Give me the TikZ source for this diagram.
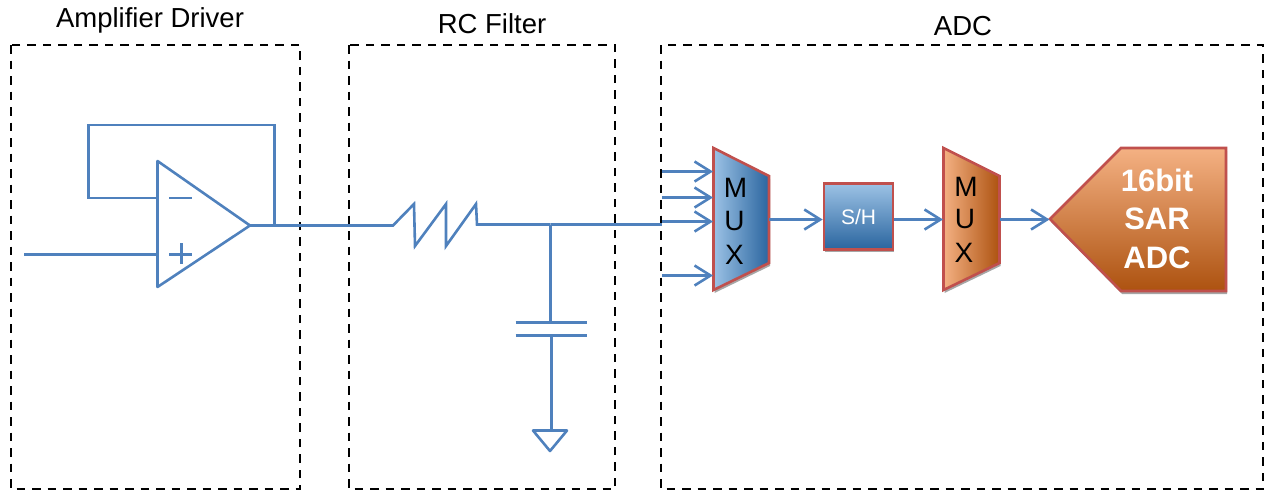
\documentclass[tikz,border=0pt]{standalone}
\usepackage{fontspec}
\setmainfont{Liberation Sans}
\usetikzlibrary{arrows.meta,shadows}
\definecolor{wire}{HTML}{4F81BD}
\definecolor{edge}{HTML}{C0504D}
\definecolor{bluelight}{HTML}{9CC2E5}
\definecolor{bluemid}{HTML}{5B9BD5}
\definecolor{bluedark}{HTML}{2A659F}
\definecolor{orangelight}{HTML}{F4B183}
\definecolor{orangemid}{HTML}{ED7D31}
\definecolor{orangedark}{HTML}{AD5210}
\tikzset{
  x=1pt,y=-1pt,
  wireline/.style={draw=wire,line width=2.6pt,line join=miter},
  arrowline/.style={wireline,-{Straight Barb[length=16pt,width=20pt,line width=2.6pt]}},
  groupbox/.style={draw=black,line width=2.3pt,dash pattern=on 8.5pt off 7pt},
  grouplabel/.style={font=\fontsize{27.5}{27.5}\selectfont,text=black,inner sep=0pt},
  softshadow/.style={drop shadow={shadow xshift=1pt,shadow yshift=-3pt,opacity=.35,fill=black}},
  blockedge/.style={draw=edge,line width=2.6pt,line join=miter,softshadow},
  muxletter/.style={font=\fontsize{28}{28}\selectfont,text=black,inner sep=0pt},
  bluemux/.style={blockedge,left color=bluelight,middle color=bluemid,right color=bluedark},
  orangemux/.style={blockedge,left color=orangelight,middle color=orangemid,right color=orangedark},
  shbox/.style={blockedge,top color=bluelight,middle color=bluemid,bottom color=bluedark,
    minimum width=69pt,minimum height=65.5pt,inner sep=0pt,text=white,font=\fontsize{21}{21}\selectfont},
  adcshape/.style={blockedge,top color=orangelight,middle color=orangemid,bottom color=orangedark},
  adctext/.style={font=\fontsize{31}{31}\selectfont\bfseries,text=white,inner sep=0pt},
}
\begin{document}
\begin{tikzpicture}
\useasboundingbox (0,0) rectangle (1264,491);
% group boxes
\draw[groupbox] (11,45) rectangle (300,489);
\draw[groupbox] (349,45) rectangle (615,489);
\draw[groupbox] (661,45) rectangle (1263,489);
\node[grouplabel] (lamp) at (150,20) {Amplifier Driver};
\node[grouplabel] (lrc) at (492,24) {RC Filter};
\node[grouplabel] (ladc) at (963,26) {ADC};
% named points
\coordinate (ampa) at (157.5,161);
\coordinate (ampb) at (157.5,287);
\coordinate (ampout) at (250,225.5);
\coordinate (ampin) at (157.5,254.5);
\coordinate (ampfb) at (157.5,198);
\coordinate (inp) at (24,254.5);
\coordinate (fbtap) at (274.5,225.5);
\coordinate (fbtr) at (274.5,125);
\coordinate (fbtl) at (88.5,125);
\coordinate (fbbl) at (88.5,198);
\coordinate (rin) at (393,225.5);
\coordinate (rout) at (477,224.5);
\coordinate (junction) at (550.5,224.5);
\coordinate (capa) at (550.5,322.5);
\coordinate (capb) at (551.5,335.5);
\coordinate (gnd) at (551.5,430);
\coordinate (muxa) at (713,171.5);
\coordinate (muxb) at (713,197.5);
\coordinate (muxc) at (713,221.5);
\coordinate (muxd) at (713,275.5);
\coordinate (ina) at (662,171.5);
\coordinate (inb) at (662,197.5);
\coordinate (inc) at (662,224.5);
\coordinate (ind) at (662,275.5);
\coordinate (muxout) at (769,219.5);
\coordinate (muxtwoin) at (943,219.5);
\coordinate (muxtwoout) at (999.5,219.5);
\coordinate (adctip) at (1049.5,219.5);
% op amp
\draw[wireline,line join=round] (ampa) -- (ampout) -- (ampb) -- cycle;
\draw[wireline] (inp) -- (ampin);
\draw[wireline] (ampfb) -- (fbbl) -- (fbtl) -- (fbtr) -- (fbtap);
\draw[wireline] (169,198) -- (192,198);
\draw[wireline] (169,254.5) -- (192,254.5);
\draw[wireline] (181.5,243) -- (181.5,264);
% output and resistor
\draw[wireline] (ampout) -- (rin) -- (414,204) -- (415,246) -- (446,204) -- (446,246) -- (476,204) -- (rout) -- (junction);
\draw[wireline] (junction) -- (inc);
\draw[wireline] (junction) -- (capa);
\draw[wireline] (515.5,322.5) -- (587,322.5);
\draw[wireline] (515.5,335.5) -- (587,335.5);
\draw[wireline] (capb) -- (gnd);
\draw[wireline,line join=round] (533,430.5) -- (567,430.5) -- (550,451) -- cycle;
% MUX blocks
\path[bluemux] (713.5,148) -- (769,176) -- (769,263) -- (713.5,290) -- cycle;
\path[orangemux] (943.5,148) -- (999.5,176) -- (999.5,263) -- (943.5,290) -- cycle;
\node[muxletter] (m1m) at (735.5,188) {M};
\node[muxletter] (m1u) at (734.5,221) {U};
\node[muxletter] (m1x) at (734.5,255) {X};
\node[muxletter] (m2m) at (966,187) {M};
\node[muxletter] (m2u) at (965,219) {U};
\node[muxletter] (m2x) at (964,253) {X};
% S/H
\node[shbox] (sh) at (858.5,216.5) {S/H};
% ADC
\path[adcshape] (1050,219) -- (1121,148) -- (1226,148) -- (1226,291) -- (1121,291) -- cycle;
\node[adctext] (a1) at (1157,180) {16bit};
\node[adctext] (a2) at (1157,219) {SAR};
\node[adctext] (a3) at (1157,258) {ADC};
% arrows
\draw[arrowline] (ina) -- (muxa);
\draw[arrowline] (inb) -- (muxb);
\draw[arrowline] (inc |- muxc) -- (muxc);
\draw[arrowline] (ind) -- (muxd);
\draw[arrowline] (muxout) -- (sh.west |- muxout);
\draw[arrowline] (sh.east |- muxout) -- (muxtwoin);
\draw[arrowline] (muxtwoout) -- (adctip);
\end{tikzpicture}
\end{document}
